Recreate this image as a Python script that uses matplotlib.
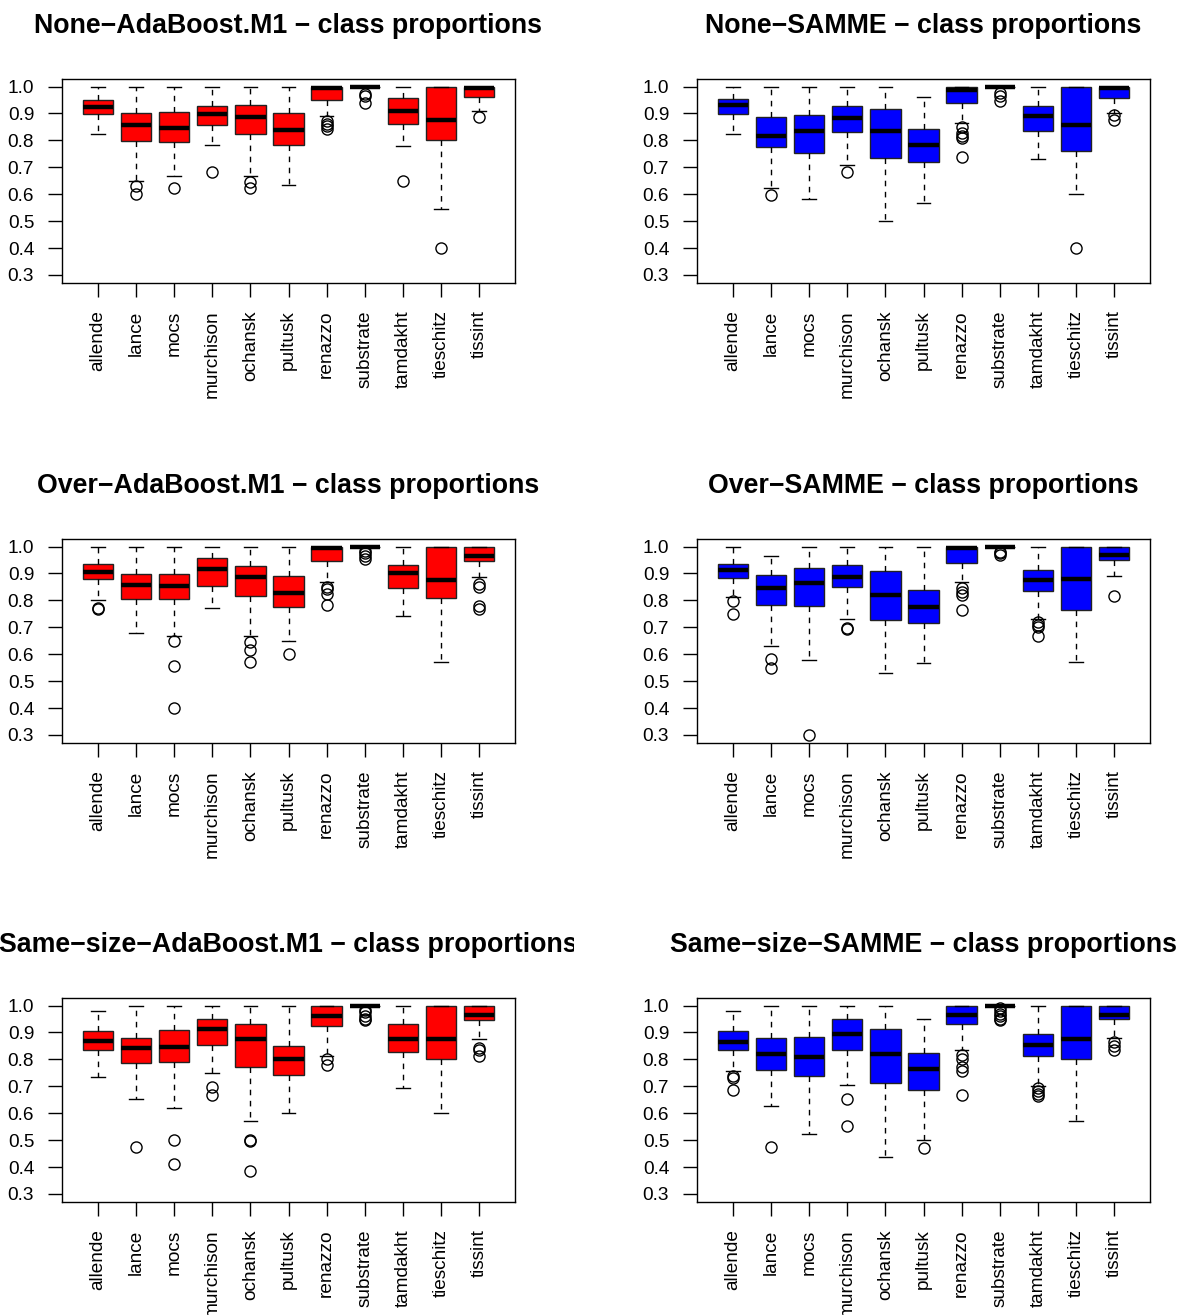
import numpy as np
import matplotlib
matplotlib.use("Agg")
import matplotlib.pyplot as plt
from matplotlib.transforms import Bbox, TransformedBbox

plt.rcParams['font.family'] = ['Liberation Sans', 'DejaVu Sans']

meteorites = ["allende", "lance", "mocs", "murchison", "ochansk", "pultusk",
              "renazzo", "substrate", "tamdakht", "tieschitz", "tissint"]
yticks = [0.3, 0.4, 0.5, 0.6, 0.7, 0.8, 0.9, 1.0]
ytick_labels = ["0.3", "0.4", "0.5", "0.6", "0.7", "0.8", "0.9", "1.0"]

# None - AdaBoost.M1
none_ada_lo = [0.822, 0.650, 0.667, 0.782, 0.667, 0.636, 0.892, 1.0, 0.779, 0.545, 0.909]
none_ada_q1 = [0.898, 0.798, 0.794, 0.858, 0.823, 0.781, 0.951, 1.0, 0.862, 0.800, 0.961]
none_ada_med = [0.924, 0.856, 0.847, 0.899, 0.888, 0.837, 0.994, 1.0, 0.909, 0.876, 0.994]
none_ada_q3 = [0.950, 0.902, 0.905, 0.928, 0.933, 0.903, 1.0, 1.0, 0.956, 1.0, 1.0]
none_ada_hi = [1.0, 1.0, 1.0, 1.0, 1.0, 1.0, 1.0, 1.0, 1.0, 1.0, 1.0]
none_ada_out = [[], [0.632, 0.600], [0.623], [0.682], [0.644, 0.623], [],
                [0.872, 0.862, 0.852, 0.841], [0.974, 0.965, 0.940], [0.650],
                [0.400], [0.888]]

# None - SAMME
none_sam_lo = [0.825, 0.624, 0.583, 0.709, 0.500, 0.566, 0.866, 1.0, 0.730, 0.600, 0.900]
none_sam_q1 = [0.898, 0.777, 0.754, 0.832, 0.735, 0.718, 0.940, 1.0, 0.835, 0.761, 0.959]
none_sam_med = [0.930, 0.818, 0.835, 0.882, 0.835, 0.782, 0.988, 1.0, 0.891, 0.857, 0.993]
none_sam_q3 = [0.955, 0.888, 0.894, 0.928, 0.918, 0.843, 1.0, 1.0, 0.928, 1.0, 1.0]
none_sam_hi = [1.0, 1.0, 1.0, 1.0, 1.0, 0.961, 1.0, 1.0, 1.0, 1.0, 1.0]
none_sam_out = [[], [0.598], [], [0.682], [], [],
                [0.851, 0.826, 0.818, 0.810, 0.738], [0.975, 0.965, 0.945], [],
                [0.400], [0.895, 0.875]]

# Over - AdaBoost.M1
over_ada_lo = [0.801, 0.680, 0.668, 0.771, 0.668, 0.648, 0.867, 1.0, 0.741, 0.571, 0.886]
over_ada_q1 = [0.878, 0.805, 0.805, 0.854, 0.817, 0.777, 0.945, 1.0, 0.846, 0.808, 0.945]
over_ada_med = [0.907, 0.858, 0.853, 0.915, 0.886, 0.826, 0.995, 1.0, 0.900, 0.877, 0.965]
over_ada_q3 = [0.935, 0.899, 0.899, 0.958, 0.928, 0.891, 1.0, 1.0, 0.932, 1.0, 1.0]
over_ada_hi = [1.0, 1.0, 1.0, 1.0, 1.0, 1.0, 1.0, 1.0, 1.0, 1.0, 1.0]
over_ada_out = [[0.772, 0.767], [], [0.648, 0.556, 0.400], [], [0.646, 0.614, 0.571],
                [0.600], [0.848, 0.841, 0.822, 0.782], [0.985, 0.975, 0.965, 0.955],
                [], [], [0.859, 0.851, 0.780, 0.767]]

# Over - SAMME
over_sam_lo = [0.811, 0.632, 0.580, 0.731, 0.530, 0.567, 0.867, 1.0, 0.731, 0.572, 0.889]
over_sam_q1 = [0.883, 0.784, 0.780, 0.851, 0.726, 0.716, 0.939, 1.0, 0.833, 0.764, 0.951]
over_sam_med = [0.914, 0.845, 0.863, 0.888, 0.820, 0.776, 0.995, 1.0, 0.876, 0.878, 0.969]
over_sam_q3 = [0.935, 0.894, 0.922, 0.933, 0.909, 0.838, 1.0, 1.0, 0.913, 1.0, 1.0]
over_sam_hi = [1.0, 0.965, 1.0, 1.0, 1.0, 1.0, 1.0, 1.0, 1.0, 1.0, 1.0]
over_sam_out = [[0.799, 0.749], [0.581, 0.550], [0.300], [0.699, 0.693], [], [],
                [0.845, 0.832, 0.820, 0.764], [0.980, 0.975, 0.970],
                [0.718, 0.710, 0.700, 0.668], [], [0.815]]

# Same-size - AdaBoost.M1
same_ada_lo = [0.735, 0.653, 0.618, 0.748, 0.570, 0.600, 0.812, 1.0, 0.692, 0.600, 0.877]
same_ada_q1 = [0.836, 0.785, 0.790, 0.853, 0.770, 0.741, 0.923, 1.0, 0.827, 0.800, 0.948]
same_ada_med = [0.869, 0.841, 0.847, 0.914, 0.877, 0.803, 0.960, 1.0, 0.877, 0.877, 0.965]
same_ada_q3 = [0.907, 0.879, 0.908, 0.951, 0.933, 0.849, 1.0, 1.0, 0.930, 1.0, 1.0]
same_ada_hi = [0.981, 1.0, 1.0, 1.0, 1.0, 1.0, 1.0, 1.0, 1.0, 1.0, 1.0]
same_ada_out = [[], [0.473], [0.500, 0.411], [0.697, 0.666], [0.500, 0.498, 0.385], [],
                [0.801, 0.778], [0.985, 0.975, 0.960, 0.950, 0.945], [], [],
                [0.844, 0.834, 0.813]]

# Same-size - SAMME
same_sam_lo = [0.755, 0.625, 0.524, 0.704, 0.437, 0.500, 0.833, 1.0, 0.702, 0.570, 0.880]
same_sam_q1 = [0.834, 0.760, 0.737, 0.833, 0.714, 0.686, 0.933, 1.0, 0.814, 0.800, 0.950]
same_sam_med = [0.866, 0.819, 0.809, 0.895, 0.819, 0.766, 0.963, 1.0, 0.853, 0.877, 0.965]
same_sam_q3 = [0.904, 0.878, 0.882, 0.950, 0.913, 0.823, 1.0, 1.0, 0.893, 1.0, 1.0]
same_sam_hi = [0.981, 1.0, 1.0, 1.0, 1.0, 0.950, 1.0, 1.0, 1.0, 1.0, 1.0]
same_sam_out = [[0.738, 0.729, 0.686], [0.473], [], [0.651, 0.554], [], [0.470],
                [0.816, 0.803, 0.772, 0.757, 0.666],
                [0.990, 0.980, 0.970, 0.960, 0.950, 0.945],
                [0.694, 0.683, 0.672, 0.663], [], [0.866, 0.851, 0.834]]

panels = [
    ("None\u2212AdaBoost.M1 \u2212 class proportions", "red",
     none_ada_lo, none_ada_q1, none_ada_med, none_ada_q3, none_ada_hi, none_ada_out),
    ("None\u2212SAMME \u2212 class proportions", "blue",
     none_sam_lo, none_sam_q1, none_sam_med, none_sam_q3, none_sam_hi, none_sam_out),
    ("Over\u2212AdaBoost.M1 \u2212 class proportions", "red",
     over_ada_lo, over_ada_q1, over_ada_med, over_ada_q3, over_ada_hi, over_ada_out),
    ("Over\u2212SAMME \u2212 class proportions", "blue",
     over_sam_lo, over_sam_q1, over_sam_med, over_sam_q3, over_sam_hi, over_sam_out),
    ("Same\u2212size\u2212AdaBoost.M1 \u2212 class proportions", "red",
     same_ada_lo, same_ada_q1, same_ada_med, same_ada_q3, same_ada_hi, same_ada_out),
    ("Same\u2212size\u2212SAMME \u2212 class proportions", "blue",
     same_sam_lo, same_sam_q1, same_sam_med, same_sam_q3, same_sam_hi, same_sam_out),
]

W, H = 1181, 1315
fig = plt.figure(figsize=(W / 100, H / 100), dpi=100)

col_left = [62, 697]
row_top = [79, 539, 998]
ax_w, ax_h = 453, 203.5

for i, (title, color, lo, q1, med, q3, hi, out) in enumerate(panels):
    r, c = divmod(i, 2)
    x0 = col_left[c]
    y0 = row_top[r]
    ax = fig.add_axes([x0 / W, 1 - (y0 + ax_h) / H, ax_w / W, ax_h / H])

    stats = []
    for k in range(len(meteorites)):
        stats.append(dict(whislo=lo[k], q1=q1[k], med=med[k], q3=q3[k],
                          whishi=hi[k], fliers=out[k]))
    pos = np.arange(1, len(meteorites) + 1)
    ax.bxp(stats, positions=pos, widths=0.8, capwidths=0.36,
           patch_artist=True, showfliers=True,
           boxprops=dict(facecolor=color, edgecolor="#222222", linewidth=1.0),
           medianprops=dict(color="black", linewidth=3.2, solid_capstyle="butt"),
           whiskerprops=dict(color="black", linewidth=1.0, linestyle=(0, (4, 4))),
           capprops=dict(color="black", linewidth=1.0),
           flierprops=dict(marker="o", markerfacecolor="none",
                           markeredgecolor="black", markersize=8,
                           markeredgewidth=1.0, linestyle="none"))

    ax.set_xlim(0.06, 11.94)
    ax.set_ylim(0.272, 1.028)
    ax.set_xticks(pos)
    ax.set_xticklabels(meteorites, rotation=90, fontsize=13.7)
    ax.set_yticks(yticks)
    ax.set_yticklabels(ytick_labels, fontsize=13.7)
    ax.tick_params(axis="both", direction="out", length=10, width=1.0,
                   pad=10, colors="black")
    for s in ax.spines.values():
        s.set_linewidth(1.0)
        s.set_color("black")

    # title, clipped to its own column like the device region
    cx = (x0 + ax_w / 2) / W
    t = fig.text(cx, 1 - (y0 - 46) / H, title, ha="center", va="baseline",
                 fontsize=19.3, fontweight="bold")
    clip = Bbox.from_extents(c * 0.5, 0, 574 / W if c == 0 else 1.0, 1)
    t.set_clip_box(TransformedBbox(clip, fig.transFigure))
    t.set_clip_on(True)

fig.savefig("out.png", dpi=100)
